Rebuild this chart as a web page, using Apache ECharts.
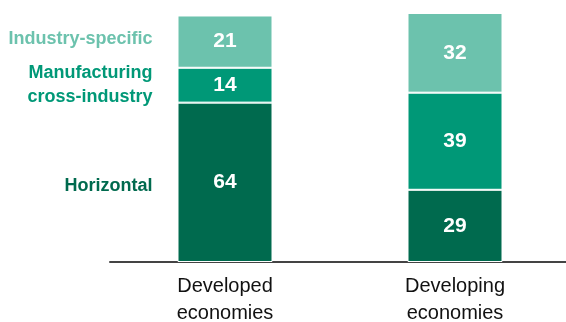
<!DOCTYPE html>
<html>
<head>
<meta charset="utf-8">
<script src="https://cdn.jsdelivr.net/npm/echarts@6/dist/echarts.min.js"></script>
<style>
  html, body { margin: 0; padding: 0; background: #fff; }
  #chart { width: 566px; height: 322px; }
</style>
</head>
<body>
<div id="chart"></div>
<script>
// Share of policy measures by type, developed vs developing economies
const categories = ['Developed\neconomies', 'Developing\neconomies'];
const seriesNames = ['Horizontal', 'Manufacturing\ncross-industry', 'Industry-specific'];
const horizontal = [64, 29];
const manufacturing = [14, 39];
const industrySpecific = [21, 32];
const colors = ['#006a4e', '#009877', '#6cc2ad'];

const FONT = '"Liberation Sans", Arial, sans-serif';
const valuesBySeries = [horizontal, manufacturing, industrySpecific];
const nameNudge = [4, 0, -3];

// Left-hand series names sit beside the middle of each segment of the first bar
function nameMarker(idx) {
  let below = 0;
  for (let i = 0; i < idx; i++) below += valuesBySeries[i][0];
  const mid = below + valuesBySeries[idx][0] / 2;
  return {
    symbol: 'circle',
    symbolSize: 1,
    silent: true,
    itemStyle: { color: 'rgba(0,0,0,0)' },
    label: {
      show: true,
      position: 'left',
      distance: 72,
      offset: [0, nameNudge[idx]],
      formatter: seriesNames[idx],
      color: colors[idx],
      fontFamily: FONT,
      fontWeight: 'bold',
      fontSize: 18,
      lineHeight: 24,
      align: 'right'
    },
    data: [{ coord: [0, mid] }]
  };
}

const series = valuesBySeries.map((vals, i) => ({
  name: seriesNames[i],
  type: 'bar',
  stack: 'total',
  barWidth: 95,
  data: vals,
  itemStyle: { color: colors[i], borderColor: '#ffffff', borderWidth: 1 },
  label: {
    show: true,
    position: 'inside',
    color: '#ffffff',
    fontFamily: FONT,
    fontWeight: 'bold',
    fontSize: 21
  },
  markPoint: nameMarker(i),
  animation: false
}));

const chart = echarts.init(document.getElementById('chart'), null, { renderer: 'canvas' });
chart.setOption({
  animation: false,
  grid: { left: 110, right: -4, top: 13, bottom: 60, containLabel: false, outerBoundsMode: 'none' },
  xAxis: {
    type: 'category',
    data: categories,
    axisLine: { show: true, lineStyle: { color: '#444444', width: 2 } },
    axisTick: { show: false },
    axisLabel: {
      color: '#111111',
      fontFamily: FONT,
      fontSize: 20,
      lineHeight: 27,
      margin: 11
    }
  },
  yAxis: {
    type: 'value',
    min: 0,
    max: 100,
    show: false,
    splitLine: { show: false }
  },
  series: series
});
</script>
</body>
</html>
